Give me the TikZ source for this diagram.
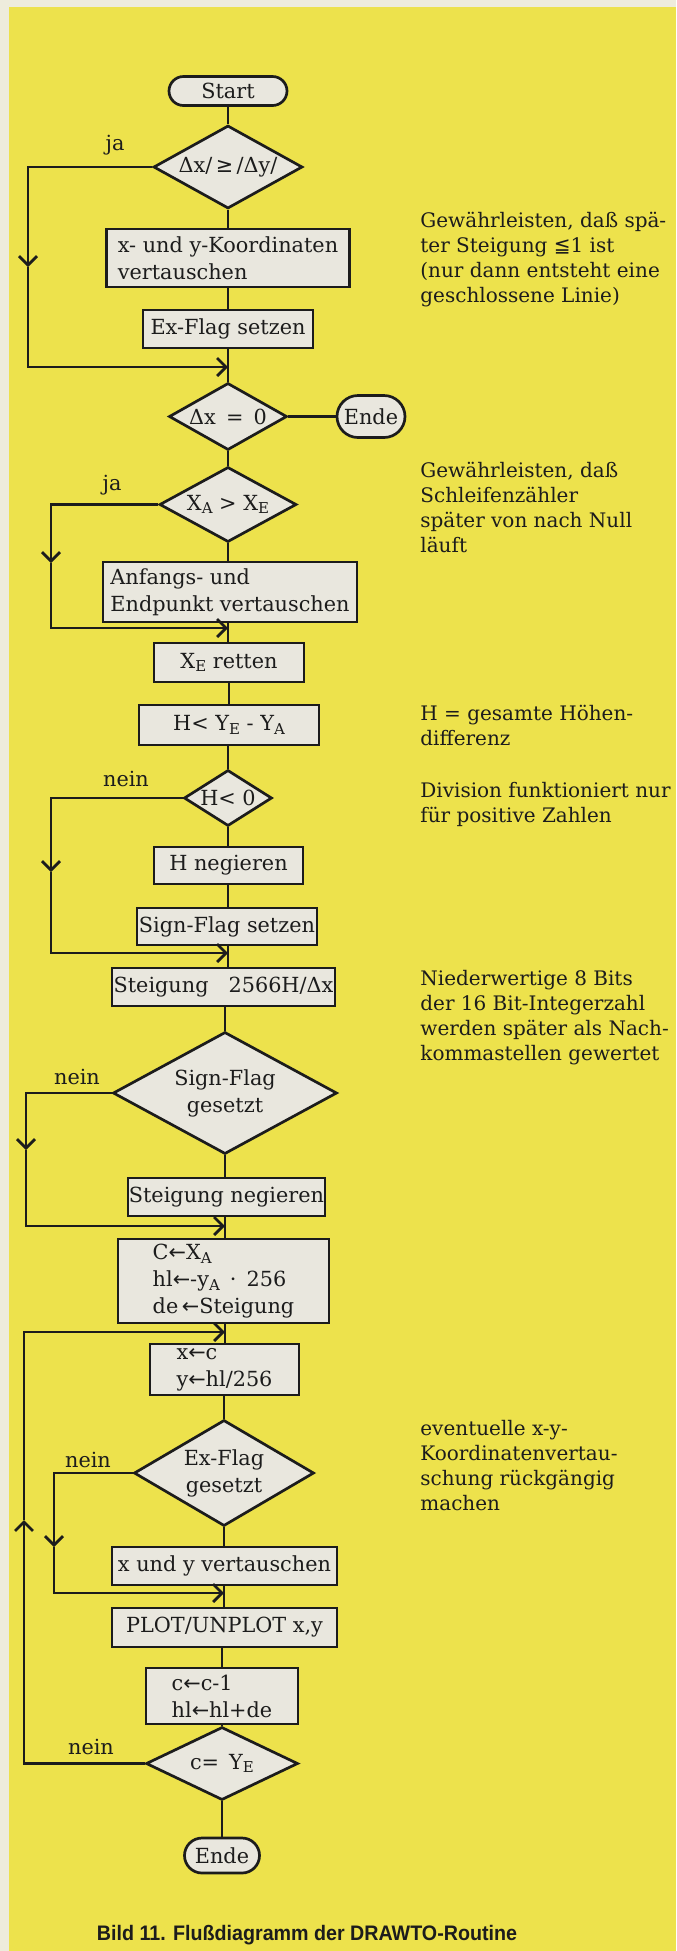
\documentclass[tikz,border=0pt]{standalone}
\usepackage{fontspec}
\usepackage{graphicx}
\setmainfont{DejaVu Serif}
\newfontfamily\symf{DejaVu Sans}
\newfontfamily\capf{Liberation Sans}
\usetikzlibrary{shapes.geometric,arrows.meta}
\newcommand{\sbx}[1]{\raisebox{-0.35ex}{\fontsize{7.5}{8}\selectfont #1}}
\definecolor{bgyellow}{RGB}{237,226,76}
\definecolor{paper}{RGB}{238,236,220}
\definecolor{boxgrey}{RGB}{233,231,222}
\definecolor{ink}{RGB}{28,28,28}
\tikzset{
  ln/.style={line width=1.35pt, draw=ink},
  proc/.style={ln, rectangle, fill=boxgrey, inner sep=0pt, text=ink,
    font=\fontsize{10.4}{13.5}\selectfont},
  term/.style={proc},
  dec/.style={ln, diamond, fill=boxgrey, inner sep=0pt, text=ink, align=center,
    font=\fontsize{10.4}{13.5}\selectfont},
  conn/.style={ln},
  chev/.style={ln, -{Straight Barb[length=4.5pt,width=9pt]}},
  lbl/.style={inner sep=0pt, text=ink, font=\fontsize{10.4}{12}\selectfont},
  note/.style={inner sep=0pt, text=ink, align=left, anchor=north west,
    font=\fontsize{10}{12.5}\selectfont},
  capt/.style={inner sep=0pt, text=ink, font=\capf\bfseries\fontsize{10.5}{12}\selectfont}
}
\begin{document}
\begin{tikzpicture}[x=0.5pt,y=-0.5pt]
\useasboundingbox (0,0) rectangle (676,1951);
\fill[paper] (0,0) rectangle (676,1951);
\fill[bgyellow] (9,7) rectangle (676,1951);

% flowchart nodes
\node[term, rounded corners=7.25pt, minimum width=59pt, minimum height=14.5pt] (start) at (228,91) {Start};
\node[dec, aspect=1.8, minimum width=74.5pt, minimum height=41.5pt] (d1) at (228,167) {Δx/\,{\symf ≥}\,/Δy/};
\node[proc, align=left, minimum width=121.5pt, minimum height=29pt] (b1) at (228,258) {x- und y-Koordinaten\\vertauschen};
\node[proc, minimum width=85pt, minimum height=19pt] (b2) at (228,329) {Ex-Flag setzen};
\coordinate (m1) at (228,367);
\node[dec, aspect=1.76, minimum width=59pt, minimum height=33.5pt] (d2) at (228,416.5) {Δx\, = \,0};
\node[term, rounded corners=10.5pt, minimum width=34pt, minimum height=21pt] (e1) at (371,416.5) {Ende};
\node[dec, aspect=1.83, minimum width=68.5pt, minimum height=37.5pt] (d3) at (228,504.5) {X\sbx{A} > X\sbx{E}};
\node[proc, align=left, minimum width=127pt, minimum height=30pt] (b3) at (230,592) {Anfangs- und\\Endpunkt vertauschen};
\coordinate (m2) at (228,628);
\node[proc, minimum width=75pt, minimum height=19.5pt] (b4) at (229,662.5) {X\sbx{E} retten};
\node[proc, minimum width=90pt, minimum height=20pt] (b5) at (229,725) {H< Y\sbx{E} - Y\sbx{A}};
\node[dec, aspect=1.57, minimum width=44pt, minimum height=28pt] (d4) at (228,798) {H< 0};
\node[proc, minimum width=74.5pt, minimum height=18.5pt] (b6) at (228.5,865.5) {H negieren};
\node[proc, minimum width=90pt, minimum height=18.5pt] (b7) at (227,926.5) {Sign-Flag setzen};
\coordinate (m3) at (228,953);
\node[proc, minimum width=111.5pt, minimum height=19pt] (b8) at (223.5,987) {Steigung\hspace{10pt}2566H/Δx};
\node[dec, aspect=1.84, minimum width=112pt, minimum height=61pt] (d5) at (225,1093) {Sign-Flag\\gesetzt};
\node[proc, minimum width=98.5pt, minimum height=19pt] (b9) at (226.5,1197) {Steigung negieren};
\coordinate (m4) at (225,1226);
\node[proc, align=left, minimum width=105.5pt, minimum height=42pt] (b10) at (223.5,1281) {C{\symf ←}X\sbx{A}\\hl{\symf ←}-y\sbx{A} \,·\, 256\\de\,{\symf ←}Steigung};
\coordinate (m5) at (225,1332);
\node[proc, align=left, minimum width=74.5pt, minimum height=25.5pt] (b11) at (224.5,1369.5) {x{\symf ←}c\\y{\symf ←}hl/256};
\node[dec, aspect=1.7, minimum width=90pt, minimum height=53pt] (d6) at (224,1473) {Ex-Flag\\gesetzt};
\node[proc, minimum width=112.5pt, minimum height=19pt] (b12) at (224.5,1566) {x und y vertauschen};
\coordinate (m6) at (224,1593);
\node[proc, minimum width=112.5pt, minimum height=19.5pt] (b13) at (224.5,1627.5) {PLOT/UNPLOT x,y};
\node[proc, align=left, minimum width=76pt, minimum height=28pt] (b14) at (222,1696) {c{\symf ←}c-1\\hl{\symf ←}hl+de};
\node[dec, aspect=2.08, minimum width=76pt, minimum height=36.5pt] (d7) at (222,1763.5) {c= \,Y\sbx{E}};
\node[term, rounded corners=8.75pt, minimum width=37.5pt, minimum height=17.5pt] (e2) at (222,1855.5) {Ende};

% main connectors
\draw[conn] (start) -- (d1);
\draw[conn] (d1) -- (b1);
\draw[conn] (b1) -- (b2);
\draw[conn] (b2.south) -- (m1) -- (d2.north);
\draw[conn] (d2.east) -- (e1.west);
\draw[conn] (d2) -- (d3);
\draw[conn] (d3.south) -- (d3.south |- b3.north);
\draw[conn] (d3.south |- b3.south) -- (m2) -- (m2 |- b4.north);
\draw[conn] (b4.south) -- (b4.south |- b5.north);
\draw[conn] (d4.north |- b5.south) -- (d4.north);
\draw[conn] (d4.south) -- (d4.south |- b6.north);
\draw[conn] (d4.south |- b6.south) -- (d4.south |- b7.north);
\draw[conn] (m3 |- b7.south) -- (m3) -- (m3 |- b8.north);
\draw[conn] (d5.north |- b8.south) -- (d5.north);
\draw[conn] (d5.south) -- (d5.south |- b9.north);
\draw[conn] (m4 |- b9.south) -- (m4) -- (m4 |- b10.north);
\draw[conn] (m5 |- b10.south) -- (m5) -- (m5 |- b11.north);
\draw[conn] (d6.north |- b11.south) -- (d6.north);
\draw[conn] (d6.south) -- (d6.south |- b12.north);
\draw[conn] (m6 |- b12.south) -- (m6) -- (m6 |- b13.north);
\draw[conn] (b14.north |- b13.south) -- (b14.north);
\draw[conn] (d7.north |- b14.south) -- (d7.north);
\draw[conn] (d7) -- (e2);

% side branches
\coordinate (c1) at (28,267);
\draw[chev] (d1.west) -| (c1);
\draw[chev] (c1) |- (m1);
\coordinate (c2) at (51,563);
\draw[chev] (d3.west) -| (c2);
\draw[chev] (c2) |- (m2);
\coordinate (c3) at (51,872);
\draw[chev] (d4.west) -| (c3);
\draw[chev] (c3) |- (m3);
\coordinate (c4) at (26,1150);
\draw[chev] (d5.west) -| (c4);
\draw[chev] (c4) |- (m4);
\coordinate (c5) at (54,1547);
\draw[chev] (d6.west) -| (c5);
\draw[chev] (c5) |- (m6);
\coordinate (c6) at (24,1520);
\draw[chev] (d7.west) -| (c6);
\draw[chev] (c6) |- (m5);

% branch labels
\node[lbl] (ja1) at (115,145) {ja};
\node[lbl] (ja2) at (112,485) {ja};
\node[lbl] (n1) at (126,779) {nein};
\node[lbl] (n2) at (77,1077) {nein};
\node[lbl] (n3) at (88,1460) {nein};
\node[lbl] (n4) at (91,1747) {nein};

% annotations
\node[note] (a1) at (420,212) {Gewährleisten, daß spä-\\ter Steigung {\symf ≦}1 ist\\(nur dann entsteht eine\\geschlossene Linie)};
\node[note] (a2) at (420,462) {Gewährleisten, daß\\Schleifenzähler\\später von nach Null\\läuft};
\node[note] (a3) at (420,705) {H = gesamte Höhen-\\differenz};
\node[note] (a4) at (420,782) {Division funktioniert nur\\für positive Zahlen};
\node[note] (a5) at (420,970) {Niederwertige 8 Bits\\der 16 Bit-Integerzahl\\werden später als Nach-\\kommastellen gewertet};
\node[note] (a6) at (420,1420) {eventuelle x-y-\\Koordinatenvertau-\\schung rückgängig\\machen};

% caption
\node[capt] (cap) at (307,1935) {\resizebox{210pt}{\height}{Bild 11. Flußdiagramm der DRAWTO-Routine}};
\end{tikzpicture}
\end{document}
